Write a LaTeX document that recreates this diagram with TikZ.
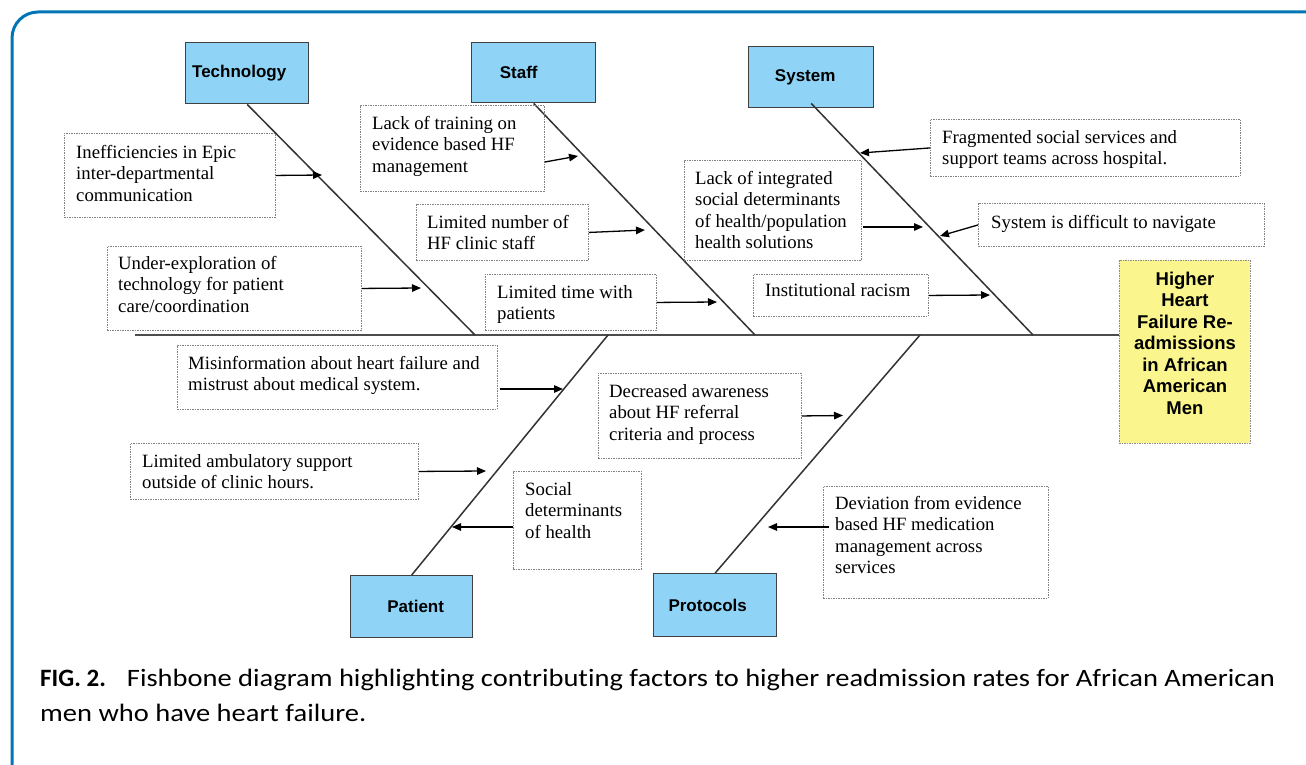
\documentclass[tikz,border=0pt]{standalone}
\usepackage{fontspec}
\setmainfont{Liberation Serif}
\newfontfamily\headfont{Liberation Sans}
\newfontfamily\capfont{Carlito}[Ligatures=NoCommon]
\newfontfamily\capwide{Carlito}[Ligatures=NoCommon,FakeStretch=1.14]
\usetikzlibrary{arrows.meta,calc}
\definecolor{frameblue}{RGB}{0,118,182}
\definecolor{catblue}{RGB}{143,212,247}
\definecolor{effyellow}{RGB}{250,245,140}
\tikzset{
  catbox/.style={draw=black!75, line width=1.4pt, fill=catblue, inner sep=0pt, anchor=north west,
    font=\headfont\bfseries\fontsize{17}{20}\selectfont},
  effbox/.style={draw=black!45, dash pattern=on 1.5pt off 1pt, line width=0.9pt, fill=effyellow, inner sep=0pt, anchor=north west,
    align=center, font=\headfont\bfseries\fontsize{18.5}{21.5}\selectfont},
  causebox/.style={draw=black!50, dash pattern=on 1.5pt off 1pt, line width=0.9pt, inner sep=0pt, anchor=north west},
  causetxt/.style={inner sep=0pt, anchor=north west, align=left, font=\fontsize{18.75}{21.5}\selectfont},
  bone/.style={draw=black!80, line width=1.5pt},
  spine/.style={draw=black!70, line width=2pt},
  arr/.style={draw=black, line width=1.3pt, -{Triangle[length=9pt,width=7.5pt]}},
}
\newcommand{\cbox}[8]{%
  \node[causebox, minimum width=#4pt, minimum height=#5pt] (#1) at (#2,#3) {};
  \node[causetxt] (#1t) at ($(#1.north west)+(#6,#7-15)$) {\rule{0pt}{15pt}#8};
}
\begin{document}
\begin{tikzpicture}[x=1pt,y=-1pt]
\useasboundingbox (0,0) rectangle (1306,765);
\clip (0,0) rectangle (1306,765);
\draw[frameblue, line width=3pt, rounded corners=26pt] (1340,12) -- (12,12) -- (12,790) -- (1340,790);

% category boxes
\node[catbox, minimum width=123pt, minimum height=61pt] (tech) at (185,42) {\hspace*{-16pt}Technology};
\node[catbox, minimum width=124pt, minimum height=60pt] (staff) at (471,42) {\hspace*{-30pt}Staff};
\node[catbox, minimum width=125pt, minimum height=61pt] (system) at (748,46) {\hspace*{-12pt}System};
\node[catbox, minimum width=122pt, minimum height=62pt] (patient) at (350,575) {\hspace*{8pt}Patient};
\node[catbox, minimum width=123pt, minimum height=63pt] (protocols) at (653,573) {\hspace*{-15pt}Protocols};

% effect box
\node[effbox, minimum width=131pt, minimum height=183pt] (effect) at (1119,260)
  {Higher\\Heart\\Failure Re-\\admissions\\in African\\American\\Men\\[-4pt]\mbox{}};

% spine and bones
\coordinate (spL) at (135,335);
\coordinate (jT) at (475,335);
\coordinate (jS) at (755,335);
\coordinate (jY) at (1033,335);
\coordinate (jP) at (608,335);
\coordinate (jR) at (920,335);
\draw[spine] (spL) -- (spL -| effect.west);
\draw[bone] (tech.south) -- (jT);
\draw[bone] (staff.south) -- (jS);
\draw[bone] ($(system.south)+(0,-5)$) -- (jY);
\draw[bone] (patient.north) -- (jP);
\draw[bone] (protocols.north) -- (jR);

% cause boxes
\cbox{tb1}{64}{133}{211}{84}{12}{25}{Inefficiencies in Epic\\inter-departmental\\communication}
\cbox{tb2}{107}{246}{254}{84}{11}{23}{Under-exploration of\\technology for patient\\care/coordination}
\cbox{sb1}{360}{105}{184}{86}{12}{24}{Lack of training on\\evidence based HF\\management}
\cbox{sb2}{416}{204}{172}{56}{11}{24}{Limited number of\\HF clinic staff}
\cbox{sb3}{485}{274}{171}{56}{12}{24}{Limited time with\\patients}
\cbox{yb1}{684}{160}{177}{100}{11}{24}{Lack of integrated\\social determinants\\of health/population\\health solutions}
\cbox{yb2}{753}{274}{175}{42}{12}{22}{Institutional racism}
\cbox{yb3}{930}{119}{310}{57}{12}{24}{Fragmented social services and\\support teams across hospital.}
\cbox{yb4}{978}{203}{286}{43}{13}{25}{System is difficult to navigate}
\cbox{pb1}{177}{345}{320}{64}{11}{24}{Misinformation about heart failure and\\mistrust about medical system.}
\cbox{pb2}{130}{443}{288}{56}{12}{24}{Limited ambulatory support\\outside of clinic hours.}
\cbox{pb3}{513}{471}{128}{98}{12}{24}{Social\\determinants\\of health}
\cbox{rb1}{598}{373}{203}{85}{11}{24}{Decreased awareness\\about HF referral\\criteria and process}
\cbox{rb2}{823}{486}{225}{112}{12}{23}{Deviation from evidence\\based HF medication\\management across\\services}

% arrow end points
\coordinate (a1) at (322,175);
\coordinate (a2) at (421,288);
\coordinate (a3) at (578,156);
\coordinate (a4) at (645,230);
\coordinate (a5) at (717,302);
\coordinate (a6) at (923,227);
\coordinate (a7) at (990,295);
\coordinate (a8) at (860,153);
\coordinate (a9) at (940,236);
\coordinate (a10) at (563,389);
\coordinate (a11) at (486,471);
\coordinate (a12) at (452,527);
\coordinate (a13) at (843,415.5);
\coordinate (a14) at (768,527);

\draw[arr] (tb1.east) -- (a1);
\draw[arr] (tb2.east) -- (a2);
\draw[arr] ($(sb1.north east)+(0,57)$) -- (a3);
\draw[arr] (sb2.east) -- (a4);
\draw[arr] (sb3.east) -- (a5);
\draw[arr] ($(yb1.north east)+(1,67)$) -- (a6);
\draw[arr] (yb2.east) -- (a7);
\draw[arr] (yb3.west) -- (a8);
\draw[arr] (yb4.west) -- (a9);
\draw[arr] ($(pb1.north east)+(2,44)$) -- (a10);
\draw[arr] (pb2.east) -- (a11);
\draw[arr] ($(pb3.north west)+(0,56)$) -- (a12);
\draw[arr] (rb1.east) -- (a13);
\draw[arr] ($(rb2.north west)+(6,41)$) -- (a14);

% caption
\node[inner sep=0pt, anchor=north west, align=left, font=\capfont\fontsize{25}{35}\selectfont] (caption) at (40,666)
  {\rule{0pt}{20pt}\textbf{FIG. 2.}\hspace{21pt}{\capwide Fishbone diagram highlighting contributing factors to higher readmission rates for African American}\\{\capwide men who have heart failure.}};
\end{tikzpicture}
\end{document}
